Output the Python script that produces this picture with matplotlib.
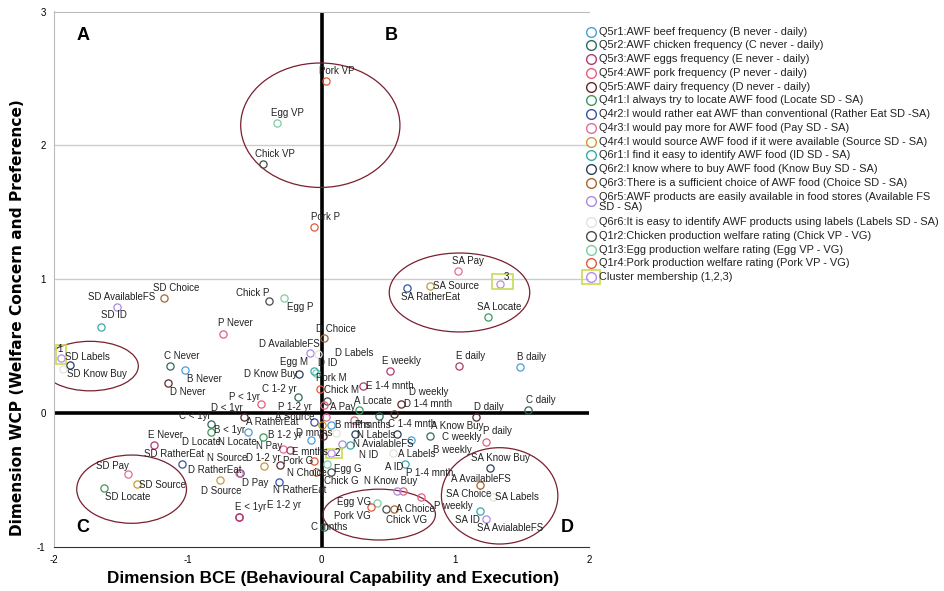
import matplotlib
matplotlib.use("Agg")
import matplotlib.pyplot as plt
from matplotlib.patches import Ellipse, Rectangle
from matplotlib.lines import Line2D

plt.rcParams['font.family'] = ['Liberation Sans', 'DejaVu Sans']
plt.rcParams['axes.unicode_minus'] = False

# legend entries, one colour per variable
legend_text = [
    "Q5r1:AWF beef frequency (B never - daily)",
    "Q5r2:AWF chicken frequency (C never - daily)",
    "Q5r3:AWF eggs frequency (E never - daily)",
    "Q5r4:AWF pork frequency (P never - daily)",
    "Q5r5:AWF dairy frequency (D never - daily)",
    "Q4r1:I always try to locate AWF food (Locate SD - SA)",
    "Q4r2:I would rather eat AWF than conventional (Rather Eat SD -SA)",
    "Q4r3:I would pay more for AWF food (Pay SD - SA)",
    "Q4r4:I would source AWF food if it were available (Source SD - SA)",
    "Q6r1:I find it easy to identify AWF food (ID SD - SA)",
    "Q6r2:I know where to buy AWF food (Know Buy SD - SA)",
    "Q6r3:There is a sufficient choice of AWF food (Choice SD - SA)",
    "Q6r5:AWF products are easily available in food stores (Available FS\nSD - SA)",
    "Q6r6:It is easy to identify AWF products using labels (Labels SD - SA)",
    "Q1r2:Chicken production welfare rating (Chick VP - VG)",
    "Q1r3:Egg production welfare rating (Egg VP - VG)",
    "Q1r4:Pork production welfare rating (Pork VP - VG)",
    "Cluster membership (1,2,3)",
]
group_colors = ['#4a9fd8', '#2f6b5b', '#b03b6e', '#e0607e', '#5e2a2c', '#3a9a5a',
                '#3553a5', '#e56b9a', '#c99a30', '#3aa9a9', '#2c3e5e', '#a9652d',
                '#a98ae0', '#e4e4d4', '#4a4a4a', '#79cfa3', '#e05a3c', '#b98ce8']

point_labels = [
    "Pork VP", "Egg VP", "Chick VP", "Pork P", "SA Pay", "3", "SA Source", "SA RatherEat",
    "SA Locate", "SD Choice", "SD AvailableFS", "SD ID", "Chick P", "Egg P", "P Never",
    "D Choice", "D AvailableFS", "D Labels", "SD Labels", "1", "SD Know Buy", "C Never",
    "B Never", "D Never", "Egg M", "D ID", "D Know Buy", "E weekly", "E daily", "B daily",
    "Pork M", "Chick M", "C 1-2 yr", "P < 1yr", "P 1-2 yr", "A Pay", "A Locate", "E 1-4 mnth",
    "D weekly", "D 1-4 mnth", "D daily", "C daily", "A Know Buy", "P daily", "C weekly",
    "B weekly", "C < 1yr", "D < 1yr", "A RatherEat", "A Source", "B < 1yr", "B mnths",
    "P mnths", "C 1-4 mnth", "D mnths", "B 1-2 yr", "N Locate", "D Locate", "N Pay",
    "E mnths", "E Never", "SD RatherEat", "N Source", "D 1-2 yr", "Pork G", "D RatherEat",
    "D Pay", "N Choice", "D Source", "N RatherEat", "SD Pay", "SD Source", "SD Locate",
    "E < 1yr", "E 1-2 yr", "C mnths", "N Labels", "N Know Buy", "N AvialableFS", "N ID",
    "A Labels", "2", "A ID", "Egg G", "Chick G", "P 1-4 mnth", "A AvailableFS",
    "SA Know Buy", "SA Labels", "SA ID", "SA AvialableFS", "P weekly", "Egg VG", "Pork VG",
    "Chick VG", "A Choice", "SA Choice",
]
point_x = [
    0.03, -0.33, -0.44, -0.06, 1.02, 1.33, 0.81, 0.64,
    1.24, -1.18, -1.53, -1.65, -0.39, -0.28, -0.74,
    0.02, -0.09, -0.03, -1.93, -1.95, -1.88, -1.13,
    -1.02, -1.15, -0.04, -0.06, -0.17, 0.51, 1.03, 1.48,
    -0.01, 0.04, -0.18, -0.45, 0.02, 0.03, 0.28, 0.31,
    0.54, 0.59, 1.15, 1.54, 0.56, 1.23, 0.81,
    0.67, -0.83, -0.58, -0.06, 0.00, -0.55, 0.07,
    0.24, 0.43, 0.01, -0.08, -0.44, -0.83, -0.29,
    -0.24, -1.25, -1.04, -0.43, -0.31, -0.06, -0.61,
    -0.62, -0.04, -0.76, -0.32, -1.45, -1.38, -1.63,
    -0.62, -0.62, 0.02, 0.11, 0.25, 0.15, 0.21,
    0.53, 0.07, 0.62, 0.04, 0.07, 0.61, 0.56,
    1.26, 1.28, 1.18, 1.23, 0.74, 0.41, 0.37,
    0.48, 0.54, 1.18,
]
point_y = [
    2.48, 2.17, 1.86, 1.39, 1.06, 0.96, 0.95, 0.93,
    0.72, 0.86, 0.79, 0.64, 0.84, 0.86, 0.59,
    0.56, 0.45, 0.44, 0.33, 0.41, 0.36, 0.35,
    0.32, 0.22, 0.30, 0.31, 0.29, 0.31, 0.35, 0.34,
    0.18, 0.09, 0.12, 0.07, 0.06, -0.03, 0.02, 0.20,
    -0.01, 0.07, -0.03, 0.02, -0.16, -0.22, -0.17,
    -0.20, -0.08, -0.03, -0.07, -0.09, -0.14, -0.09,
    -0.05, -0.02, -0.17, -0.20, -0.18, -0.14, -0.27,
    -0.28, -0.24, -0.38, -0.40, -0.39, -0.36, -0.45,
    -0.45, -0.44, -0.50, -0.52, -0.46, -0.53, -0.56,
    -0.78, -0.78, -0.85, -0.15, -0.16, -0.23, -0.24,
    -0.30, -0.30, -0.38, -0.38, -0.44, -0.58, -0.58,
    -0.41, -0.63, -0.73, -0.79, -0.63, -0.67, -0.70,
    -0.72, -0.72, -0.54,
]
point_group = [
    16, 15, 14, 16, 7, 17, 8, 6,
    5, 11, 12, 9, 14, 15, 3,
    11, 12, 13, 13, 17, 10, 1,
    0, 4, 15, 9, 10, 2, 2, 0,
    16, 14, 1, 3, 3, 7, 5, 2,
    4, 4, 4, 1, 10, 3, 1,
    0, 1, 4, 6, 8, 0, 0,
    3, 1, 4, 0, 5, 5, 7,
    2, 2, 6, 8, 4, 16, 6,
    7, 11, 8, 6, 7, 8, 5,
    2, 2, 1, 13, 10, 12, 9,
    13, 17, 9, 15, 14, 3, 12,
    10, 13, 9, 12, 3, 15, 16,
    14, 11, 11,
]

# label placement: (dx, dy) in pixels from the point to the label's left/centre, y down
label_offsets = {
    "Pork VP": (-7, -10), "Egg VP": (-6, -10), "Chick VP": (-8, -10), "Pork P": (-3, -10),
    "SA Pay": (-6, -10), "3": (4, -7), "SA Source": (3, 0), "SA RatherEat": (-6, 9),
    "SA Locate": (-11, -10), "SD Choice": (-11, -10), "SD AvailableFS": (-29, -10),
    "SD ID": (0, -12), "Chick P": (-33, -8), "Egg P": (3, 9), "P Never": (-5, -11),
    "D Choice": (-8, -9), "D AvailableFS": (-51, -9), "D Labels": (17, -1),
    "SD Labels": (2, -12), "1": (-3, -9), "SD Know Buy": (-3, 9), "C Never": (-6, -10),
    "B Never": (2, 9), "D Never": (2, 9), "Egg M": (-36, -11), "D ID": (4, -8),
    "D Know Buy": (-55, 0), "E weekly": (-8, -10), "E daily": (-3, -10), "B daily": (-3, -10),
    "Pork M": (-4, -11), "Chick M": (-3, -11), "C 1-2 yr": (-36, -8), "P < 1yr": (-32, -7),
    "P 1-2 yr": (-46, 2), "A Pay": (4, -10), "A Locate": (-5, -9), "E 1-4 mnth": (3, 0),
    "D weekly": (15, -22), "D 1-4 mnth": (3, 0), "D daily": (-2, -10), "C daily": (-2, -10),
    "A Know Buy": (34, -8), "P daily": (-3, -11), "C weekly": (12, 1), "B weekly": (22, 10),
    "C < 1yr": (-32, -8), "D < 1yr": (-33, -9), "A RatherEat": (-68, 0), "A Source": (-47, -8),
    "B < 1yr": (-34, -2), "B mnths": (4, 0), "P mnths": (1, 5), "C 1-4 mnth": (9, 8),
    "D mnths": (-27, -3), "B 1-2 yr": (-43, -5), "N Locate": (-45, 5), "D Locate": (-29, 10),
    "N Pay": (-27, -3), "E mnths": (2, 2), "E Never": (-6, -10), "SD RatherEat": (-38, -10),
    "N Source": (-57, -8), "D 1-2 yr": (-34, -7), "Pork G": (-31, 0), "D RatherEat": (-52, -3),
    "D Pay": (3, 10), "N Choice": (-29, 1), "D Source": (-19, 11), "N RatherEat": (-6, 8),
    "SD Pay": (-32, -8), "SD Source": (2, 1), "SD Locate": (1, 9), "E < 1yr": (-4, -10),
    "E 1-2 yr": (28, -12), "C mnths": (-13, 0), "N Labels": (21, 2), "N Know Buy": (9, 47),
    "N AvialableFS": (11, 0), "N ID": (9, 10), "A Labels": (5, 1), "2": (4, 0),
    "A ID": (-20, 3), "Egg G": (7, 5), "Chick G": (-7, 9), "P 1-4 mnth": (3, -18),
    "A AvailableFS": (54, -12), "SA Know Buy": (-19, -10), "SA Labels": (2, 0),
    "SA ID": (-25, 9), "SA AvialableFS": (-9, 9), "P weekly": (13, 9), "Egg VG": (-40, -1),
    "Pork VG": (-37, 9), "Chick VG": (0, 11), "A Choice": (2, 0), "SA Choice": (-34, 9),
}

# cluster-marker boxes: (left, top, right, bottom) pixel offsets from the point
cluster_boxes = {"1": (-5, -13, 5, 6), "2": (-5, -4, 11, 5), "3": (-8, -10, 13, 5)}

# ellipses: centre x, centre y, width, height (data units)
ellipses = [(-0.01, 2.15, 1.19, 0.93), (1.03, 0.90, 1.05, 0.59), (-1.73, 0.35, 0.72, 0.37),
            (-1.42, -0.57, 0.82, 0.51), (0.43, -0.76, 0.84, 0.38), (1.33, -0.62, 0.87, 0.72)]

W, H = 945, 591
fig = plt.figure(figsize=(W / 100, H / 100), dpi=100)
ax = fig.add_axes([54 / W, 1 - 546.7 / H, (589.3 - 54) / W, (546.7 - 11.5) / H])
ax.set_xlim(-2, 2)
ax.set_ylim(-1, 3)
ppu = 133.8  # pixels per data unit

for y in [1, 2]:
    ax.axhline(y, color='#cccccc', lw=1, zorder=0)
ax.axhline(0, color='black', lw=2.6, zorder=1)
ax.axvline(0, color='black', lw=2.6, zorder=1)

for cx, cy, w, h in ellipses:
    ax.add_patch(Ellipse((cx, cy), w, h, fill=False, ec='#7a1f2e', lw=0.9, zorder=2))

for lab, x, y, g in zip(point_labels, point_x, point_y, point_group):
    ax.plot(x, y, 'o', ms=5.2, mfc='none', mec=group_colors[g], mew=0.9, zorder=3)
    dx, dy = label_offsets.get(lab, (3, -10))
    ax.annotate(lab, (x, y), xytext=(dx, -dy), textcoords='offset pixels',
                ha='left', va='center', fontsize=7, color='#222222', zorder=4)
    if lab in cluster_boxes:
        l, t, r, b = cluster_boxes[lab]
        ax.add_patch(Rectangle((x + l / ppu, y - b / ppu), (r - l) / ppu, (b - t) / ppu,
                               fill=False, ec='#c8dc50', lw=1.2, zorder=3))

for s in ['left', 'top']:
    ax.spines[s].set_color('#bbbbbb')
ax.spines['right'].set_visible(False)
ax.spines['bottom'].set_color('#333333')
ax.set_xticks([-2, -1, 0, 1, 2])
ax.set_yticks([-1, 0, 1, 2, 3])
ax.tick_params(length=0, labelsize=7, pad=6)

fig.text(333 / W, 1 - 578 / H, "Dimension BCE (Behavioural Capability and Execution)",
         fontsize=12.3, fontweight='bold', ha='center', va='center')
fig.text(18 / W, 1 - 318 / H, "Dimension WCP (Welfare Concern and Preference)",
         fontsize=11.1, fontweight='bold', ha='center', va='center', rotation=90,
         family='DejaVu Sans')

for txt, (px, py) in zip("ABCD", [(83, 36), (391, 36), (83, 528), (567, 528)]):
    fig.text(px / W, 1 - py / H, txt, fontsize=13, fontweight='bold', ha='center', va='center')

# legend, drawn by hand
ly = 31.7
for i, (txt, col) in enumerate(zip(legend_text, group_colors)):
    wrapped = "\n" in txt
    cy = ly + (4.7 if wrapped else 0)
    ty = ly + (5.6 if wrapped else 0)
    fig.add_artist(Line2D([591.5 / W], [1 - cy / H], marker='o', ms=7, mfc='none',
                          mec=col, mew=1.0, ls='none'))
    fig.text(599 / W, 1 - ty / H, txt, fontsize=7.9, va='center', ha='left',
             linespacing=0.95, color='#222222')
    if i == len(legend_text) - 1:
        fig.add_artist(Rectangle((582 / W, 1 - (cy + 6.5) / H), 17.5 / W, 13.5 / H,
                                 transform=fig.transFigure, fill=False, ec='#c8dc50', lw=1.2))
    ly += 13.75 + (11.6 if wrapped else 0)

fig.savefig("out.png", dpi=100)
